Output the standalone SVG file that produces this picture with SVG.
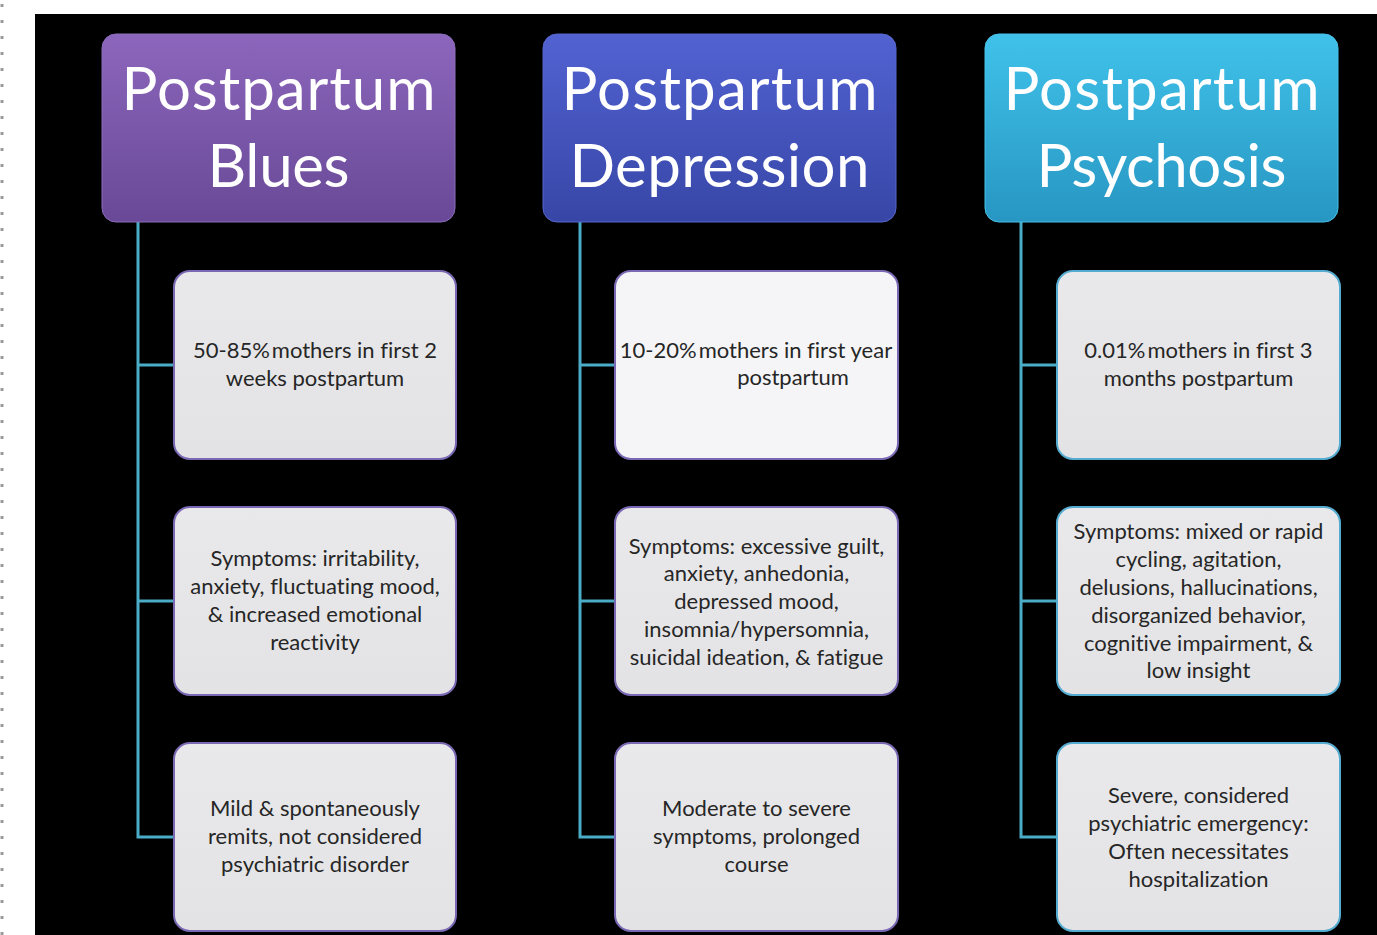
<svg xmlns="http://www.w3.org/2000/svg" width="1377" height="935" viewBox="0 0 1377 935">
<style>
.hdr{font-family:Lato,"Open Sans","Liberation Sans",sans-serif;font-size:60px;fill:#ffffff;text-anchor:middle;font-variant-ligatures:none}
.txt{font-family:Lato,"Open Sans","Liberation Sans",sans-serif;font-size:22px;fill:#262626;text-anchor:middle;font-variant-ligatures:none}
.box{fill:url(#gBox);stroke-width:2}
.bp{stroke:#7a68b4}
.bt{stroke:#55acd0}
.conn{fill:none;stroke:#4aacc6;stroke-width:3}
</style>
<defs>
<linearGradient id="gPur" x1="0" y1="0" x2="0" y2="1"><stop offset="0" stop-color="#8c66bc"/><stop offset="1" stop-color="#694997"/></linearGradient>
<linearGradient id="gBlu" x1="0" y1="0" x2="0" y2="1"><stop offset="0" stop-color="#5262d2"/><stop offset="1" stop-color="#3746a6"/></linearGradient>
<linearGradient id="gCya" x1="0" y1="0" x2="0" y2="1"><stop offset="0" stop-color="#40c2ea"/><stop offset="1" stop-color="#2796c2"/></linearGradient>
<linearGradient id="gBox" x1="0" y1="0" x2="0" y2="1"><stop offset="0" stop-color="#e9e9eb"/><stop offset="1" stop-color="#e3e3e5"/></linearGradient>
</defs>
<rect x="0" y="0" width="1377" height="935" fill="#ffffff"/>
<line x1="2" y1="4" x2="2" y2="935" stroke="#9a9a9a" stroke-width="3" stroke-dasharray="3 13"/>
<rect x="35" y="14" width="1342" height="921" fill="#000000"/>

<g id="connectors">
<path class="conn" d="M138 222 V837 H174 M138 365 H174 M138 601 H174"/>
<path class="conn" d="M580 222 V837 H615 M580 365 H615 M580 601 H615"/>
<path class="conn" d="M1021 222 V837 H1057 M1021 365 H1057 M1021 601 H1057"/>
</g>

<g id="blues">
<rect x="102" y="34" width="353" height="188" rx="14" fill="url(#gPur)" stroke="#8a6cba" stroke-width="1"/>
<text class="hdr" x="278.5" y="110" textLength="314">Postpartum</text>
<text class="hdr" x="278.5" y="187" textLength="142">Blues</text>
</g>
<g id="depression">
<rect x="543" y="34" width="353" height="188" rx="14" fill="url(#gBlu)" stroke="#5666cc" stroke-width="1"/>
<text class="hdr" x="719.5" y="110" textLength="316">Postpartum</text>
<text class="hdr" x="719.5" y="187" textLength="300">Depression</text>
</g>
<g id="psychosis">
<rect x="985" y="34" width="353" height="188" rx="14" fill="url(#gCya)" stroke="#48c0e6" stroke-width="1"/>
<text class="hdr" x="1161.5" y="110" textLength="316">Postpartum</text>
<text class="hdr" x="1161.5" y="187" textLength="250">Psychosis</text>
</g>

<g id="blues-1">
<rect class="box bp" x="174" y="271" width="282" height="188" rx="16"/>
<text class="txt" x="315" y="358"><tspan>50-85%</tspan><tspan dx="2">mothers in first 2</tspan></text>
<text class="txt" x="315" y="386">weeks postpartum</text>
</g>
<g id="blues-2">
<rect class="box bp" x="174" y="507" width="282" height="188" rx="16"/>
<text class="txt" x="315" y="566">Symptoms: irritability,</text>
<text class="txt" x="315" y="594">anxiety, fluctuating mood,</text>
<text class="txt" x="315" y="622">&amp; increased emotional</text>
<text class="txt" x="315" y="650">reactivity</text>
</g>
<g id="blues-3">
<rect class="box bp" x="174" y="743" width="282" height="188" rx="16"/>
<text class="txt" x="315" y="816">Mild &amp; spontaneously</text>
<text class="txt" x="315" y="844">remits, not considered</text>
<text class="txt" x="315" y="872">psychiatric disorder</text>
</g>

<g id="depression-1">
<rect class="bp" x="615" y="271" width="283" height="188" rx="16" fill="#f5f5f7" stroke-width="2"/>
<text class="txt" x="756" y="358"><tspan>10-20%</tspan><tspan dx="2">mothers in first year</tspan></text>
<text class="txt" x="793" y="385">postpartum</text>
</g>
<g id="depression-2">
<rect class="box bp" x="615" y="507" width="283" height="188" rx="16"/>
<text class="txt" x="756.5" y="554">Symptoms: excessive guilt,</text>
<text class="txt" x="756.5" y="581">anxiety, anhedonia,</text>
<text class="txt" x="756.5" y="609">depressed mood,</text>
<text class="txt" x="756.5" y="637">insomnia/hypersomnia,</text>
<text class="txt" x="756.5" y="665">suicidal ideation, &amp; fatigue</text>
</g>
<g id="depression-3">
<rect class="box bp" x="615" y="743" width="283" height="188" rx="16"/>
<text class="txt" x="756.5" y="816">Moderate to severe</text>
<text class="txt" x="756.5" y="844">symptoms, prolonged</text>
<text class="txt" x="756.5" y="872">course</text>
</g>

<g id="psychosis-1">
<rect class="box bt" x="1057" y="271" width="283" height="188" rx="16"/>
<text class="txt" x="1198.5" y="358"><tspan>0.01%</tspan><tspan dx="2">mothers in first 3</tspan></text>
<text class="txt" x="1198.5" y="386">months postpartum</text>
</g>
<g id="psychosis-2">
<rect class="box bt" x="1057" y="507" width="283" height="188" rx="16"/>
<text class="txt" x="1198.5" y="539">Symptoms: mixed or rapid</text>
<text class="txt" x="1198.5" y="567">cycling, agitation,</text>
<text class="txt" x="1198.5" y="595">delusions, hallucinations,</text>
<text class="txt" x="1198.5" y="623">disorganized behavior,</text>
<text class="txt" x="1198.5" y="651">cognitive impairment, &amp;</text>
<text class="txt" x="1198.5" y="678">low insight</text>
</g>
<g id="psychosis-3">
<rect class="box bt" x="1057" y="743" width="283" height="188" rx="16"/>
<text class="txt" x="1198.5" y="803">Severe, considered</text>
<text class="txt" x="1198.5" y="831">psychiatric emergency:</text>
<text class="txt" x="1198.5" y="859">Often necessitates</text>
<text class="txt" x="1198.5" y="887">hospitalization</text>
</g>
</svg>
